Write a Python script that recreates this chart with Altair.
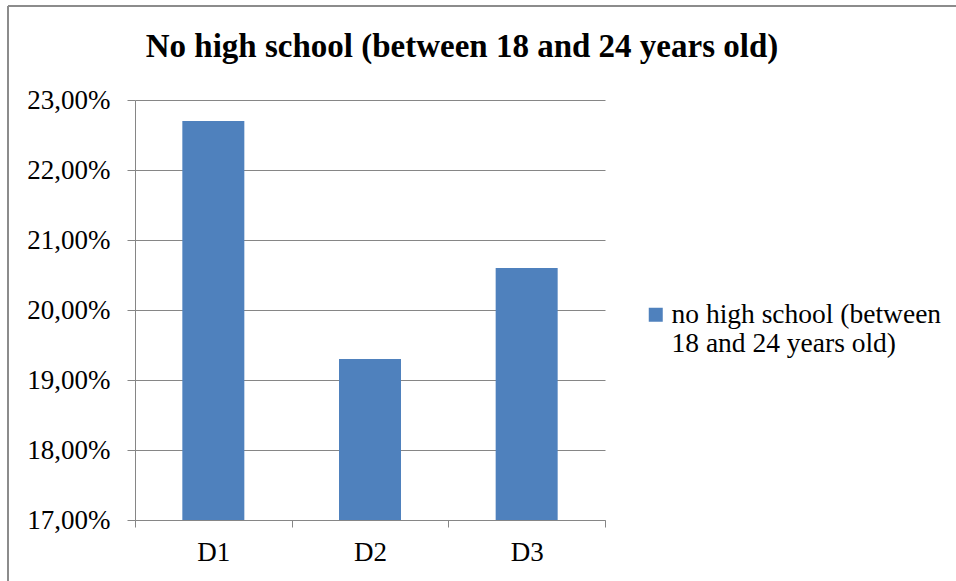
import altair as alt
import pandas as pd

categories = ["D1", "D2", "D3"]
values = [0.227, 0.193, 0.206]
series_name = "no high school (between 18 and 24 years old)"
title_text = "No high school (between 18 and 24 years old)"
y_ticks = [0.17, 0.18, 0.19, 0.20, 0.21, 0.22, 0.23]

df = pd.DataFrame({"cat": categories, "val": values, "series": [series_name] * 3})

FONT = "Liberation Serif, 'Times New Roman', 'DejaVu Serif', serif"
GRAY = "#868686"

bars = alt.Chart(df).mark_bar(size=62, color="#4F81BD").encode(
    x=alt.X("cat:N", title=None, sort=categories,
            scale=alt.Scale(paddingInner=0, paddingOuter=0),
            axis=alt.Axis(labelAngle=0, tickBand="extent", tickSize=7, tickColor=GRAY,
                          domainColor=GRAY, labelFont=FONT, labelFontSize=27,
                          labelColor="black", labelPadding=12, grid=False)),
    y=alt.Y("val:Q", title=None,
            scale=alt.Scale(domain=[0.17, 0.23], nice=False, zero=False),
            axis=alt.Axis(values=y_ticks, tickSize=8, tickColor=GRAY, domainColor=GRAY,
                          gridColor=GRAY, grid=True, labelFont=FONT, labelFontSize=27,
                          labelColor="black", labelPadding=17,
                          labelExpr="replace(format(datum.value, '.2%'), '.', ',')")),
    y2=alt.datum(0.17),
    color=alt.Color("series:N", scale=alt.Scale(range=["#4F81BD"]),
                    legend=alt.Legend(title=None, orient="none", legendX=507, legendY=201,
                                      symbolType="square", symbolSize=196, symbolStrokeWidth=0,
                                      labelFont=FONT, labelFontSize=27.5, labelColor="black",
                                      labelLimit=400, labelOffset=2,
                                      labelExpr="['no high school (between', '18 and 24 years old)']")),
)

frame_left = alt.Chart().mark_rule(color="#8c8c8c", strokeWidth=2).encode(
    x=alt.value(-127), y=alt.value(-94), y2=alt.value(490))
frame_top = alt.Chart().mark_rule(color="#8c8c8c", strokeWidth=2).encode(
    x=alt.value(-127), x2=alt.value(830), y=alt.value(-94))

chart = alt.layer(frame_left, frame_top, bars).properties(
    width=470, height=420,
    title=alt.TitleParams(title_text, font=FONT, fontSize=33, fontWeight="bold",
                          color="black", dx=92, dy=59, offset=0),
    autosize=alt.AutoSizeParams(type="none"),
    padding={"left": 135, "top": 100, "right": 351, "bottom": 61},
).configure_view(stroke=None).configure_axis(domainWidth=1, gridWidth=1)

chart.save("out.html", embed_options={"renderer": "svg", "actions": False})
